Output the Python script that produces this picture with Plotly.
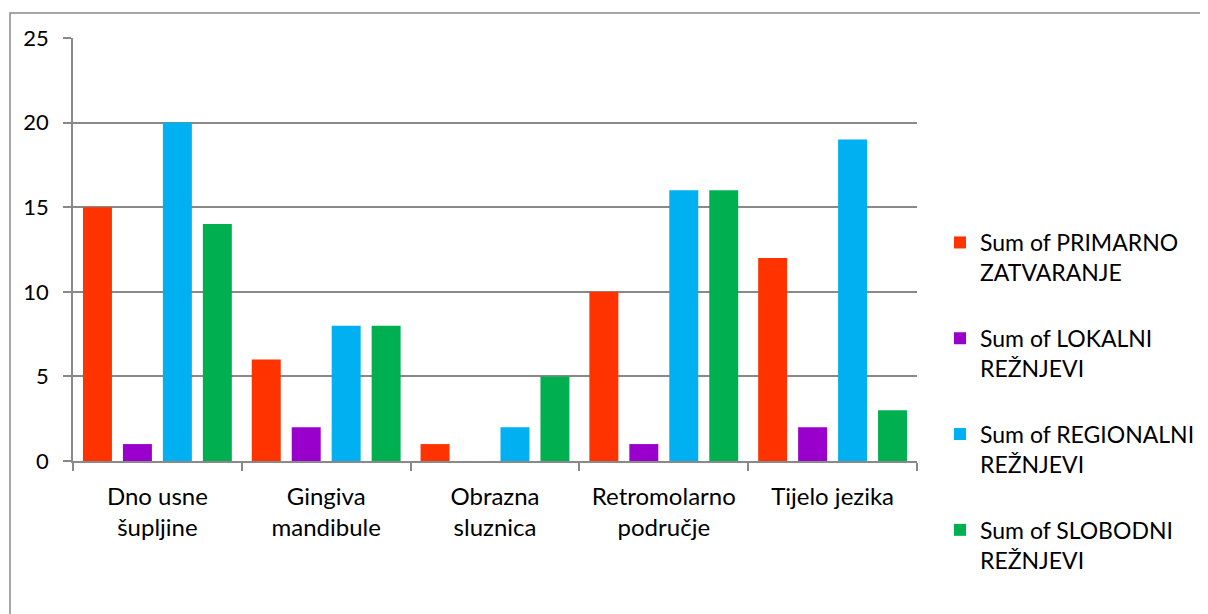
import plotly.graph_objects as go

categories = ["Dno usne<br>šupljine", "Gingiva<br>mandibule", "Obrazna<br>sluznica",
              "Retromolarno<br>područje", "Tijelo jezika"]
primarno = [15, 6, 1, 10, 12]
lokalni = [1, 2, 0, 1, 2]
regionalni = [20, 8, 2, 16, 19]
slobodni = [14, 8, 5, 16, 3]

series = [
    ("Sum of PRIMARNO<br>ZATVARANJE", primarno, "#FF3300"),
    ("Sum of LOKALNI<br>REŽNJEVI", lokalni, "#9900CC"),
    ("Sum of REGIONALNI<br>REŽNJEVI", regionalni, "#00B0F0"),
    ("Sum of SLOBODNI<br>REŽNJEVI", slobodni, "#00B050"),
]

OFF = 8  # page body margin
W, H = 1208 - OFF, 614 - OFF
L, R, T, B = 73 - OFF, 917 - OFF, 38 - OFF, 461 - OFF
pw, ph = R - L, B - T

fig = go.Figure()
for i, (name, vals, col) in enumerate(series):
    fig.add_trace(go.Bar(x=categories, y=vals, name=name, marker_color=col,
                         marker_line_width=0, legendgroup=str(i)))

FONT = "Lato"
FS = 24
def px2paperx(p):
    return (p - OFF - L) / pw
def px2papery(p):
    return (B - (p - OFF)) / ph

fig.update_layout(
    width=W, height=H,
    margin=dict(l=L, r=W - R, t=T, b=H - B, autoexpand=False),
    paper_bgcolor="white", plot_bgcolor="white",
    barmode="group", bargap=0.053, bargroupgap=0.275,
    font=dict(family=FONT, size=FS, color="black"),
    xaxis=dict(showline=True, linecolor="#898989", linewidth=1.5,
               ticks="outside", tickson="boundaries", ticklen=8,
               tickcolor="#898989", tickwidth=1.5, ticklabelstandoff=13,
               tickfont=dict(family=FONT, size=FS, color="black")),
    yaxis=dict(range=[0, 25], dtick=5, showline=True, linecolor="#898989",
               linewidth=1.5, showgrid=True, gridcolor="#898989", gridwidth=1.5,
               ticks="outside", ticklen=8, tickcolor="#898989", tickwidth=1.5,
               zeroline=False, ticklabelstandoff=10,
               tickfont=dict(family=FONT, size=22, color="black")),
    legend=dict(xref="container", yref="container",
                x=932 / W, y=1 - 213 / H, xanchor="left", yanchor="top",
                valign="top", traceorder="grouped", tracegroupgap=33,
                maxheight=440,
                font=dict(family=FONT, size=23, color="black"),
                bgcolor="rgba(0,0,0,0)"),
    shapes=[dict(type="rect", xref="paper", yref="paper",
                 x0=px2paperx(10), x1=px2paperx(1240),
                 y0=px2papery(650), y1=px2papery(13),
                 line=dict(color="#898989", width=1.5), fillcolor="rgba(0,0,0,0)",
                 layer="below")],
)

fig.write_html("out.html")
